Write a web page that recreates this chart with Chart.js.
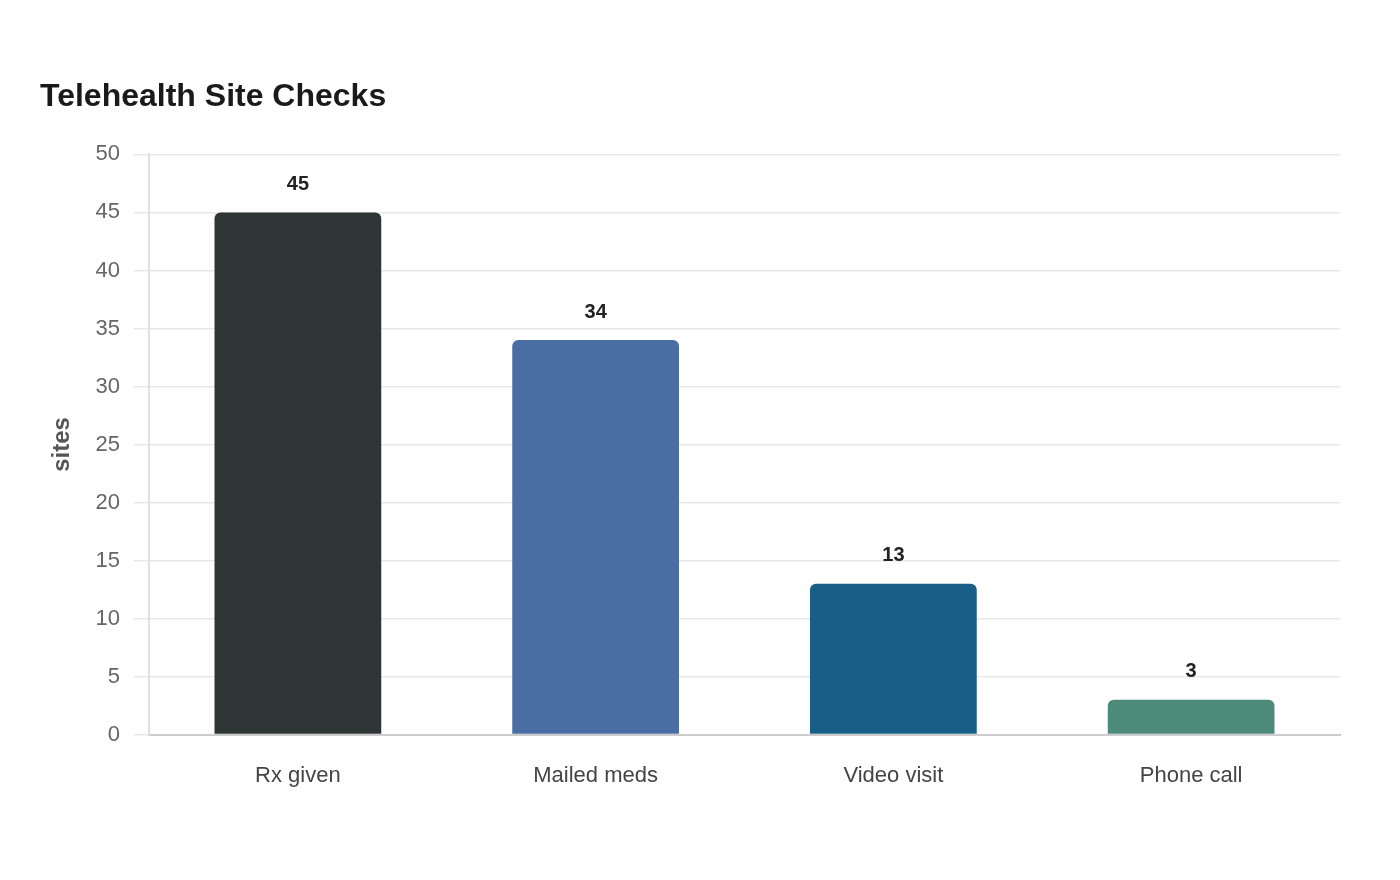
<!DOCTYPE html>
<html>
<head>
<meta charset="utf-8">
<title>Telehealth Site Checks</title>
<script src="https://cdn.jsdelivr.net/npm/chart.js@4.4.1/dist/chart.umd.min.js"></script>
<style>
  html, body { margin: 0; padding: 0; background: #ffffff; }
  #wrap { width: 1400px; height: 880px; position: relative; }
</style>
</head>
<body>
<div id="wrap"><canvas id="chart"></canvas></div>
<script>
// chart data
const categories = ['Rx given', 'Mailed meds', 'Video visit', 'Phone call'];
const sites = [45, 34, 13, 3];
const barColors = ['#2d3535', '#4a6ea3', '#185f88', '#4e8a79'];
const yTicks = [0, 5, 10, 15, 20, 25, 30, 35, 40, 45, 50];

Chart.defaults.font.family = '"Liberation Sans", Arial, sans-serif';

// draws the value above each bar
const valueLabels = {
    id: 'valueLabels',
    afterDatasetsDraw(chart) {
        const ctx = chart.ctx;
        const meta = chart.getDatasetMeta(0);
        ctx.save();
        ctx.font = 'bold 20px "Liberation Sans", Arial, sans-serif';
        ctx.fillStyle = '#222222';
        ctx.textAlign = 'center';
        ctx.textBaseline = 'middle';
        meta.data.forEach((bar, i) => {
            ctx.fillText(String(sites[i]), bar.x, bar.y - 28);
        });
        ctx.restore();
    }
};

const ctx = document.getElementById('chart').getContext('2d');
new Chart(ctx, {
    type: 'bar',
    data: {
        labels: categories,
        datasets: [{
            label: 'sites',
            data: sites,
            backgroundColor: barColors,
            borderRadius: 6,
            barPercentage: 0.8,
            categoryPercentage: 0.7
        }]
    },
    options: {
        responsive: true,
        maintainAspectRatio: false,
        animation: false,
        layout: {
            padding: { left: 40, right: 60, top: 0, bottom: 63 }
        },
        plugins: {
            legend: { display: false },
            tooltip: { enabled: false },
            title: {
                display: true,
                text: 'Telehealth Site Checks',
                align: 'start',
                color: '#1a1a1a',
                font: { size: 32, weight: 'bold' },
                padding: { top: 78, bottom: 38 }
            }
        },
        scales: {
            x: {
                grid: { display: false, drawTicks: false },
                border: { display: true, color: '#cccccc', width: 2 },
                ticks: {
                    color: '#444444',
                    font: { size: 22 },
                    padding: 28
                }
            },
            y: {
                min: 0,
                max: 50,
                afterBuildTicks: (scale) => {
                    scale.ticks = yTicks.map(v => ({ value: v }));
                },
                afterFit: (scale) => { scale.width = 109; },
                grid: { color: '#e8e8e8', tickLength: 15, lineWidth: 1.5 },
                border: { display: true, color: '#e0e0e0', width: 2 },
                ticks: {
                    color: '#666666',
                    font: { size: 22 },
                    padding: 14
                },
                title: {
                    display: true,
                    text: 'sites',
                    color: '#555555',
                    font: { size: 24, weight: 'bold' },
                    padding: { top: 8, bottom: 0 }
                }
            }
        }
    },
    plugins: [valueLabels]
});
</script>
</body>
</html>
